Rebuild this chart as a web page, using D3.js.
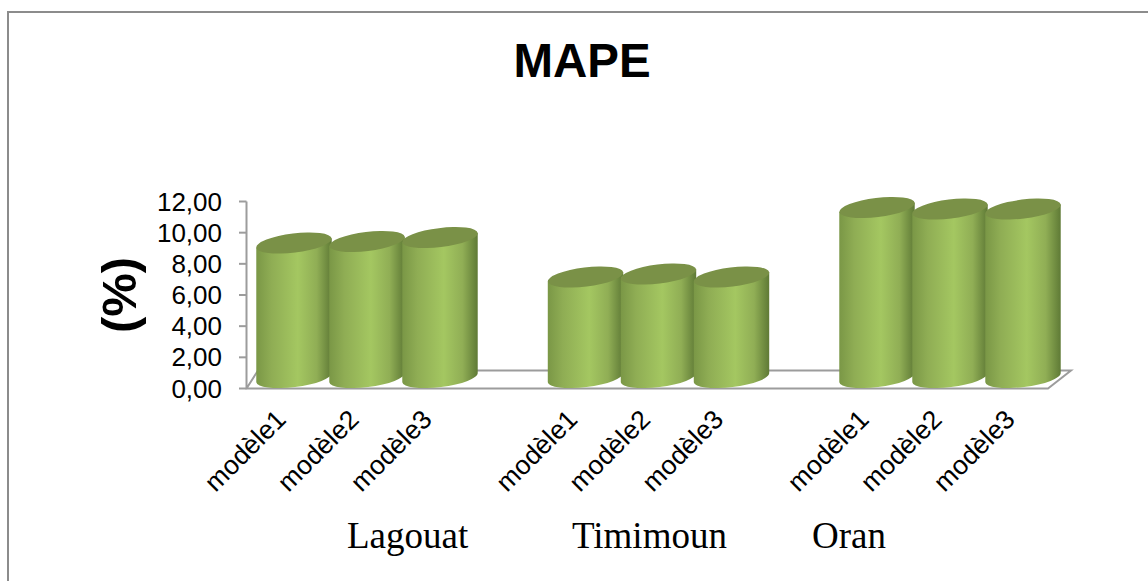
<!DOCTYPE html>
<html lang="fr">
<head>
<meta charset="utf-8">
<title>MAPE</title>
<script src="https://cdn.jsdelivr.net/npm/d3@7/dist/d3.min.js"></script>
<style>
  html, body { margin: 0; padding: 0; background: #fff; }
  svg { display: block; }
</style>
</head>
<body>
<svg id="chart" width="1148" height="581"></svg>
<script>
// Mean absolute percentage error per site and model
const sites = ["Lagouat", "Timimoun", "Oran"];
const models = ["modèle1", "modèle2", "modèle3"];
const lagouatValues = [8.63, 8.73, 8.98];
const timimounValues = [6.45, 6.64, 6.45];
const oranValues = [10.91, 10.81, 10.81];
const siteValues = [lagouatValues, timimounValues, oranValues];
const yTicks = [0, 2, 4, 6, 8, 10, 12];

const svg = d3.select("#chart");
const formatTick = v => d3.format(".2f")(v).replace(".", ",");

// Flatten to one record per cylinder
const records = sites.flatMap((site, s) =>
  models.map((model, m) => ({ site, model, value: siteValues[s][m] })));

const y = d3.scaleLinear().domain([0, 12]).range([388.5, 201.5]);
const groupStep = 291.5;
const barStep = 73;
const barX = d => 256 + sites.indexOf(d.site) * groupStep + models.indexOf(d.model) * barStep;

// Floor depth and ellipse shape of the cylinders
const depth = 11;
const rx = 38, ry = 9.5, tilt = -7;

const defs = svg.append("defs");
const grad = defs.append("linearGradient").attr("id", "cyl").attr("x1", 0).attr("x2", 1).attr("y1", 0).attr("y2", 0);
[[0, "#7a9746"], [0.2, "#8fad54"], [0.55, "#a4c761"], [0.8, "#90ae55"], [1, "#5f7a36"]].forEach(([o, c]) =>
  grad.append("stop").attr("offset", o).attr("stop-color", c));

// Outer frame: top and left edges only reach the canvas
svg.append("path").attr("d", "M8,581V12H1148").attr("fill", "none").attr("stroke", "#8c8c8c").attr("stroke-width", 2);

// Floor and vertical axis
const axisColor = "#9c9c9c";
const axisG = svg.append("g").attr("fill", "none").attr("stroke", axisColor).attr("stroke-width", 2);
axisG.append("path").attr("d", `M246.5,${y(12)}V${y(0)}H1048L1071,370.5H258L246.5,${y(0)}`);
axisG.selectAll("line.tick").data(yTicks).join("line")
  .attr("x1", 239).attr("x2", 246.5).attr("y1", d => y(d)).attr("y2", d => y(d));

svg.append("g").selectAll("text").data(yTicks).join("text")
  .attr("x", 222).attr("y", d => y(d) + 9).attr("text-anchor", "end")
  .attr("font-family", "'Liberation Sans', Arial, sans-serif").attr("font-size", 26).attr("fill", "#000")
  .text(formatTick);

// Cylinders, drawn left to right so each overlaps the previous one
const bars = svg.append("g").selectAll("g").data(records).join("g")
  .attr("transform", d => `translate(${barX(d)},0)`);

const t = tilt * Math.PI / 180;
// End points of an ellipse tilted about its centre
const dx = rx * Math.cos(t), dy = rx * Math.sin(t);

bars.append("path")
  .attr("fill", "url(#cyl)")
  .attr("d", d => {
    const cx = rx, top = y(d.value) - depth, base = y(0) - depth;
    return `M${cx - dx},${top - dy}L${cx + dx},${top + dy}L${cx + dx},${base + dy}` +
      `A${rx},${ry} ${tilt} 0 1 ${cx - dx},${base - dy}Z`;
  });
bars.append("ellipse")
  .attr("cx", rx).attr("cy", d => y(d.value) - depth).attr("rx", rx).attr("ry", ry)
  .attr("transform", d => `rotate(${tilt} ${rx} ${y(d.value) - depth})`)
  .attr("fill", "#7a9147");

// Rotated model labels
svg.append("g").selectAll("text").data(records).join("text")
  .attr("transform", d => `translate(${barX(d) + 31.5},${421}) rotate(-45)`)
  .attr("text-anchor", "end")
  .attr("font-family", "'Liberation Sans', Arial, sans-serif").attr("font-size", 26.5).attr("fill", "#000")
  .text(d => d.model);

// Site names under each group
const siteLabelX = [347, 572, 812];
svg.append("g").selectAll("text").data(sites).join("text")
  .attr("x", (d, i) => siteLabelX[i]).attr("y", 548)
  .attr("font-family", "'Liberation Serif', 'Times New Roman', serif").attr("font-size", 37).attr("fill", "#000")
  .text(d => d);

// Title and rotated unit label
svg.append("text").attr("x", 582).attr("y", 77).attr("text-anchor", "middle")
  .attr("font-family", "'Liberation Sans', Arial, sans-serif").attr("font-weight", "bold").attr("font-size", 47.5)
  .text("MAPE");
svg.append("text").attr("transform", "translate(136,295) rotate(-90)").attr("text-anchor", "middle")
  .attr("font-family", "'Liberation Sans', Arial, sans-serif").attr("font-weight", "bold").attr("font-size", 49)
  .text("(%)");
</script>
</body>
</html>
